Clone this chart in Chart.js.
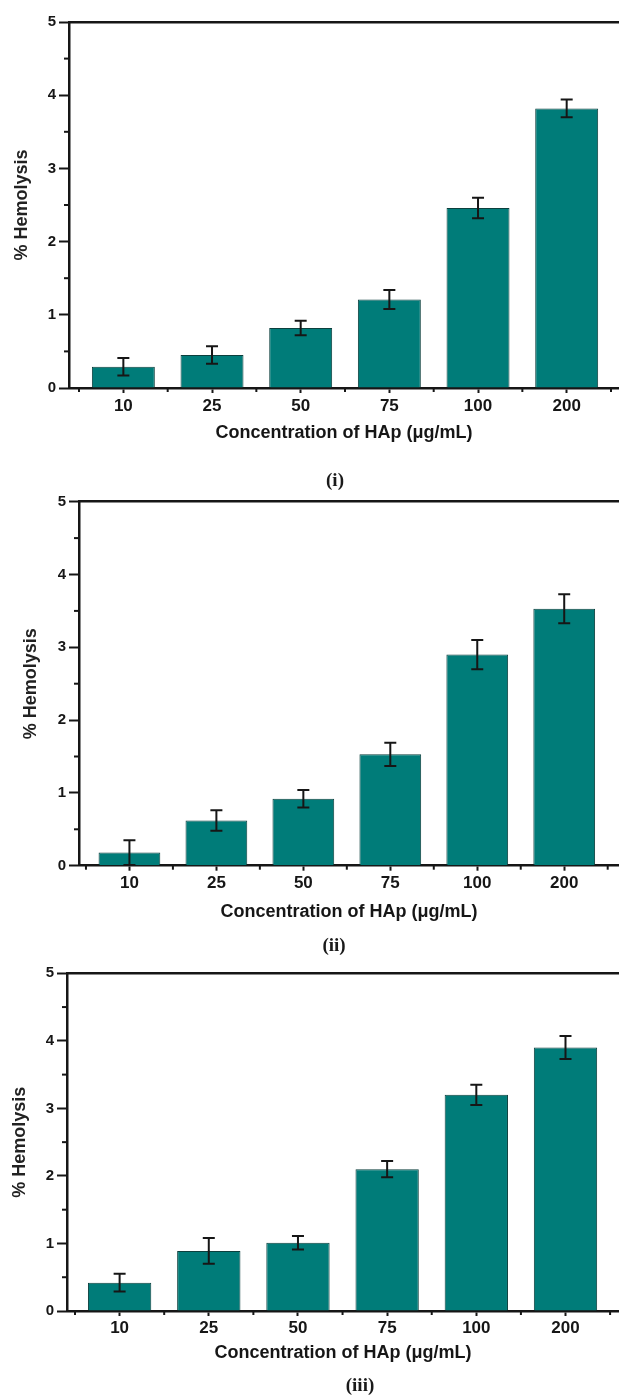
<!DOCTYPE html>
<html>
<head>
<meta charset="utf-8">
<script src="https://cdn.jsdelivr.net/npm/chart.js@4.4.1/dist/chart.umd.min.js"></script>
<style>
  body { margin: 0; background: #fff; }
  #page { position: relative; width: 619px; height: 1395px; overflow: hidden; }
  canvas { position: absolute; left: 0; }
  .caption { position: absolute; transform: translate(-50%, -50%); font: bold 19px "Liberation Serif", serif; color: #1a1a1a; white-space: nowrap; }
</style>
</head>
<body>
<div id="page">
  <canvas id="panel-i" width="619" height="470" style="top:0px"></canvas>
  <canvas id="panel-ii" width="619" height="445" style="top:485px"></canvas>
  <canvas id="panel-iii" width="619" height="440" style="top:955px"></canvas>
  <div class="caption" style="left:335px; top:480px">(i)</div>
  <div class="caption" style="left:334px; top:945px">(ii)</div>
  <div class="caption" style="left:360px; top:1385px">(iii)</div>
</div>
<script>
// data
const categories = ["10", "25", "50", "75", "100", "200"];
const hemolysisI = [0.29, 0.45, 0.82, 1.21, 2.46, 3.82];
const errorI = [0.12, 0.12, 0.10, 0.13, 0.14, 0.12];
const hemolysisII = [0.18, 0.62, 0.92, 1.53, 2.90, 3.53];
const errorII = [0.17, 0.14, 0.12, 0.16, 0.20, 0.20];
const hemolysisIII = [0.42, 0.89, 1.01, 2.10, 3.20, 3.90];
const errorIII = [0.13, 0.19, 0.10, 0.12, 0.15, 0.17];
const yTicks = [0, 1, 2, 3, 4, 5];

const xTitle = "Concentration of HAp (\u03bcg/mL)";
const yTitle = "% Hemolysis";

const ink = "#161616";
const barColor = "#007c79";
const fontFamily = "'Liberation Sans', Arial, sans-serif";

// error bars + minor ticks, drawn through the chart scales
const extrasPlugin = {
  id: "extras",
  afterDatasetsDraw(chart) {
    const ctx = chart.ctx;
    const y = chart.scales.y;
    const x = chart.scales.x;
    const errs = chart.config.options.errors;
    const values = chart.data.datasets[0].data;
    const meta = chart.getDatasetMeta(0);
    ctx.save();
    ctx.strokeStyle = ink;
    ctx.lineWidth = 2;
    meta.data.forEach((bar, i) => {
      const v = values[i].y;
      const top = y.getPixelForValue(v + errs[i]);
      const bot = y.getPixelForValue(Math.max(v - errs[i], 0));
      ctx.beginPath();
      ctx.moveTo(bar.x, top);
      ctx.lineTo(bar.x, bot);
      ctx.moveTo(bar.x - 6, top);
      ctx.lineTo(bar.x + 6, top);
      ctx.moveTo(bar.x - 6, bot);
      ctx.lineTo(bar.x + 6, bot);
      ctx.stroke();
    });
    // minor ticks on y (every 0.5) and between categories on x
    const left = chart.chartArea.left;
    const bottom = chart.chartArea.bottom;
    for (let k = 0; k < yTicks.length - 1; k++) {
      const py = y.getPixelForValue(yTicks[k] + 0.5);
      ctx.beginPath();
      ctx.moveTo(left - 5, py);
      ctx.lineTo(left, py);
      ctx.stroke();
    }
    for (let k = -1; k < categories.length; k++) {
      const px = x.getPixelForValue(k + 0.5);
      ctx.beginPath();
      ctx.moveTo(px, bottom);
      ctx.lineTo(px, bottom + 4);
      ctx.stroke();
    }
    ctx.restore();
  }
};

function makePanel(id, values, errors, lay) {
  const tickFont = { family: fontFamily, size: 17, weight: "bold" };
  const titleFont = { family: fontFamily, size: 18, weight: "bold" };
  const tickLabelPad = lay.labelY - lay.plotBottom - 5 - tickFont.size * 0.6;
  const titlePadBottom = lay.top + lay.height - lay.titleY - titleFont.size * 0.6;

  return new Chart(document.getElementById(id), {
    type: "bar",
    data: {
      datasets: [{
        data: values.map((v, i) => ({ x: i, y: v })),
        backgroundColor: barColor,
        borderColor: "#0c3f3d",
        borderWidth: 1,
        categoryPercentage: 1,
        barPercentage: 0.71
      }]
    },
    plugins: [extrasPlugin],
    options: {
      responsive: false,
      animation: false,
      errors: errors,
      layout: { padding: { top: lay.plotTop - lay.top, left: 0, right: 0, bottom: 0 } },
      plugins: { legend: { display: false }, tooltip: { enabled: false } },
      scales: {
        x: {
          type: "linear",
          position: "bottom",
          offset: false,
          min: lay.xMin,
          max: lay.xMax,
          afterBuildTicks: s => { s.ticks = categories.map((c, i) => ({ value: i })); },
          afterFit: s => {
            s.height = lay.top + lay.height - lay.plotBottom;
            s.paddingLeft = 0;
            s.paddingRight = 0;
          },
          ticks: {
            callback: (v, i) => categories[i],
            color: ink,
            font: tickFont,
            padding: tickLabelPad,
            maxRotation: 0
          },
          grid: { drawOnChartArea: false, offset: false, tickLength: 5, tickWidth: 2, color: ink },
          border: { display: true, width: 2.5, color: ink },
          title: {
            display: true,
            text: xTitle,
            color: ink,
            font: titleFont,
            padding: { top: 0, bottom: titlePadBottom }
          }
        },
        xTop: {
          type: "linear",
          axis: "x",
          position: "top",
          offset: false,
          min: lay.xMin,
          max: lay.xMax,
          afterFit: s => { s.height = 0; s.paddingLeft = 0; s.paddingRight = 0; },
          ticks: { display: false },
          grid: { display: false, drawTicks: false },
          border: { display: true, width: 2.5, color: ink }
        },
        y: {
          min: yTicks[0],
          max: yTicks[yTicks.length - 1],
          afterBuildTicks: s => { s.ticks = yTicks.map(v => ({ value: v })); },
          afterFit: s => { s.width = lay.plotLeft; s.paddingTop = 0; s.paddingBottom = 0; },
          ticks: {
            color: ink,
            font: { family: fontFamily, size: 15, weight: "bold" },
            padding: 3
          },
          grid: { drawOnChartArea: false, tickLength: 10, tickWidth: 2, color: ink },
          border: { display: true, width: 2.5, color: ink },
          title: {
            display: true,
            text: yTitle,
            color: "#222",
            font: { family: fontFamily, size: 18, weight: "bold" },
            padding: { top: lay.yTitleX - 10.8, bottom: 0 }
          }
        }
      }
    }
  });
}

makePanel("panel-i", hemolysisI, errorI, {
  top: 0, height: 470, plotLeft: 69, plotTop: 22, plotBottom: 388,
  xMin: -0.613, xMax: 5.59, labelY: 406.7, titleY: 433, yTitleX: 21.7
});
makePanel("panel-ii", hemolysisII, errorII, {
  top: 485, height: 445, plotLeft: 79, plotTop: 501.7, plotBottom: 865.7,
  xMin: -0.58, xMax: 5.63, labelY: 883.3, titleY: 911.7, yTitleX: 31
});
makePanel("panel-iii", hemolysisIII, errorIII, {
  top: 955, height: 440, plotLeft: 67, plotTop: 973.3, plotBottom: 1311,
  xMin: -0.59, xMax: 5.6, labelY: 1328, titleY: 1353, yTitleX: 20
});
</script>
</body>
</html>
